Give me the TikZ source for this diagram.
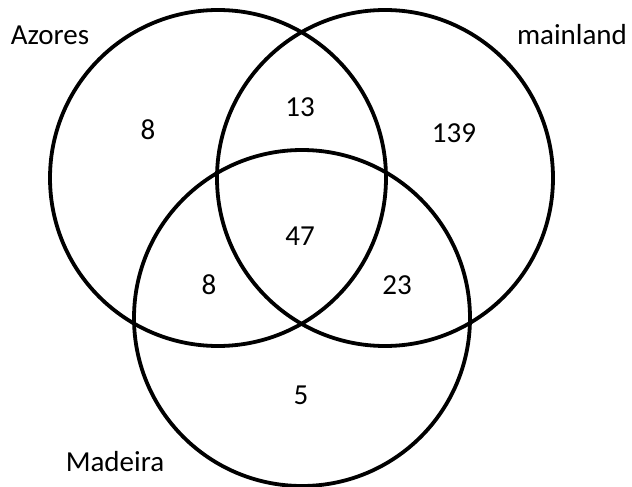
\documentclass[tikz,border=0pt]{standalone}
\usepackage{fontspec}
\setmainfont{Carlito}
\usepackage{tikz}

\tikzset{
    setring/.style={circle, draw, line width=3.8pt, minimum size=336pt, inner sep=0pt},
    setname/.style={anchor=base, inner sep=0pt, font=\fontsize{29}{34}\selectfont},
    count/.style={anchor=base, inner sep=0pt, font=\fontsize{29}{34}\selectfont}
}

\begin{document}
\begin{tikzpicture}[x=1pt, y=-1pt]
        \useasboundingbox (0,0) rectangle (632,487);

        % the three sets
        \node[setring] (azores) at (218,178) {};
        \node[setring] (mainland) at (385,178) {};
        \node[setring] (madeira) at (302,318) {};

        \node[setname] (azoreslabel) at (50,45) {Azores};
        \node[setname] (mainlandlabel) at (572,45) {mainland};
        \node[setname] (madeiralabel) at (115,471) {Madeira};

        % region counts
        \node[count] (aonly) at (148,139) {8};
        \node[count] (amain) at (300,117) {13};
        \node[count] (mainonly) at (454,142) {139};
        \node[count] (all) at (300,245) {47};
        \node[count] (amad) at (209,294) {8};
        \node[count] (mainmad) at (397,294) {23};
        \node[count] (madonly) at (301,404) {5};
    \end{tikzpicture}
\end{document}
